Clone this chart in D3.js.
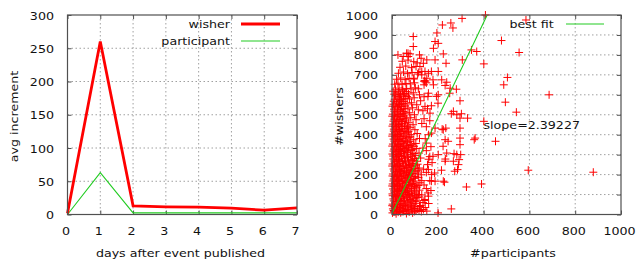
<!DOCTYPE html>
<html><head><meta charset="utf-8">
<script src="https://cdn.jsdelivr.net/npm/d3@7/dist/d3.min.js"></script>
<style>
html,body{margin:0;padding:0;background:#fff;}
svg{display:block;}
text{font-family:"DejaVu Sans",sans-serif;font-size:11px;fill:#111;}
</style></head>
<body>
<svg id="c" width="636" height="262"></svg>
<script>
// ---------- DATA ----------
const days = [0, 1, 2, 3, 4, 5, 6, 7];
const wisherIncrement = [2, 260, 13, 11.5, 11, 9.5, 6.5, 10];
const participantIncrement = [0, 63, 2.5, 2.5, 2.5, 2.5, 2.5, 2.5];
const leftXTicks = [0, 1, 2, 3, 4, 5, 6, 7];
const leftYTicks = [0, 50, 100, 150, 200, 250, 300];
const rightXTicks = [0, 200, 400, 600, 800, 1000];
const rightYTicks = [0, 100, 200, 300, 400, 500, 600, 700, 800, 900, 1000];
const fitSlope = 2.39227;
const fitIntercept = 5;
const slopeLabel = "slope=2.39227";
// [#participants, #wishers]
const events = [
[2,8],[9,14],[18,4],[27,12],[38,9],[50,16],[63,5],[75,13],[90,8],[105,18],
[4,28],[12,33],[22,26],[33,35],[45,29],[58,32],[70,25],[85,36],[98,30],[112,27],
[3,52],[14,58],[25,50],[36,57],[48,54],[60,49],[74,59],[88,53],[102,56],
[6,78],[16,84],[29,76],[40,82],[52,79],[66,86],[79,75],[95,81],[118,88],
[2,103],[11,109],[21,101],[34,107],[46,104],[57,110],[71,100],[84,106],[99,108],[130,98],
[5,128],[17,133],[27,126],[39,131],[53,135],[64,127],[78,132],[92,129],[108,134],
[3,153],[13,158],[24,151],[35,157],[47,154],[61,160],[73,150],[89,156],[104,152],[122,159],[140,148],
[8,178],[19,184],[31,176],[42,182],[56,179],[68,185],[82,175],[97,181],[115,186],
[4,203],[15,209],[26,200],[37,207],[50,204],[63,210],[76,201],[91,206],[110,208],[128,199],[150,211],
[7,228],[18,234],[30,226],[44,232],[57,229],[70,235],[86,225],[101,231],[119,233],[138,227],
[3,253],[12,258],[23,250],[34,257],[48,254],[60,259],[75,251],[93,256],[112,252],
[6,278],[17,284],[28,276],[41,282],[54,279],[67,285],[83,275],[99,281],[125,283],[160,277],
[2,303],[14,309],[25,301],[37,307],[50,304],[65,310],[80,300],[96,306],[118,308],
[9,328],[20,334],[32,326],[45,332],[58,329],[72,335],[90,325],[108,331],[135,333],
[4,353],[15,358],[27,351],[40,357],[53,354],[68,360],[86,350],[104,356],
[7,378],[18,384],[30,376],[43,382],[57,379],[74,385],[95,375],[120,381],
[3,403],[13,409],[25,401],[38,407],[52,404],[66,410],[84,400],[110,406],
[8,428],[20,434],[33,426],[47,432],[62,429],[79,435],[100,425],
[5,453],[16,458],[28,451],[42,457],[56,454],[73,460],[92,450],[130,456],
[10,478],[22,484],[35,476],[49,482],[64,479],[82,485],[105,475],
[4,503],[17,509],[30,501],[45,507],[60,504],[77,510],[98,500],
[9,528],[24,534],[38,526],[53,532],[70,529],[90,535],[115,525],
[6,553],[19,558],[33,551],[48,557],[66,554],[85,560],[108,550],
[12,578],[27,584],[42,576],[58,582],[76,579],[97,585],
[10,603],[22,609],[37,601],[55,607],[72,604],[93,610],[120,600],
[15,628],[31,634],[47,626],[64,632],[83,629],[102,635],
[12,653],[26,658],[44,651],[61,657],[80,654],[98,660],[140,650],
[20,678],[38,684],[57,676],[75,682],[95,679],
[28,708],[50,714],[68,706],[88,712],[112,704],
[35,738],[60,744],[85,736],[105,742],
[45,768],[70,774],[95,766],
[7,20],[20,17],[32,22],[44,15],[57,21],[70,18],[84,23],[98,16],[118,20],
[1,44],[10,40],[24,46],[38,41],[52,45],[66,39],[80,44],[95,42],[125,45],
[8,68],[20,65],[31,70],[43,66],[55,71],[69,64],[83,69],[108,67],[140,70],
[3,94],[14,90],[26,95],[38,91],[50,93],[62,89],[76,96],[90,92],[106,94],
[9,118],[23,115],[31,120],[44,116],[58,121],[68,114],[85,119],[100,117],[120,122],
[1,143],[11,140],[22,145],[33,141],[46,144],[58,139],[70,146],[84,142],[98,141],[114,145],
[6,168],[18,165],[29,170],[40,166],[52,169],[65,164],[78,171],[94,167],[130,170],
[2,193],[12,190],[24,195],[35,191],[47,194],[60,189],[72,196],[87,192],[102,190],
[9,218],[21,215],[33,220],[41,216],[54,219],[66,214],[80,221],[96,217],[115,219],
[1,243],[14,240],[26,245],[38,241],[51,244],[64,239],[78,246],[88,242],[105,244],
[10,268],[21,265],[32,270],[45,266],[58,269],[72,264],[90,271],[107,267],
[5,293],[19,290],[31,295],[43,291],[56,294],[70,289],[88,292],[102,295],
[7,318],[18,315],[29,320],[42,316],[55,319],[68,314],[84,321],
[1,343],[13,340],[25,345],[37,341],[50,344],[63,339],[78,346],[96,342],
[10,368],[22,365],[34,370],[47,366],[61,369],[80,367],
[1,393],[14,390],[24,395],[36,391],[49,394],[62,389],[78,392],
[8,418],[18,415],[30,420],[43,416],[57,419],[72,417],
[2,443],[14,440],[26,445],[40,441],[54,444],[68,442],
[7,468],[19,465],[31,470],[45,466],[60,469],
[1,493],[12,490],[25,495],[39,491],[54,494],
[10,518],[23,515],[36,520],[50,516],
[2,543],[14,540],[28,545],[42,541],[58,544],
[8,568],[22,565],[36,570],[52,566],
[16,593],[33,590],[50,595],[66,591],
[5,618],[28,615],[45,620],[62,616],
[306,983],[408,1000],[585,975],[220,950],[257,960],[266,935],[93,892],[196,910],[478,872],[93,842],
[188,867],[202,858],[181,833],[347,825],[370,817],[224,805],[555,812],[64,808],[71,792],[49,792],
[79,805],[127,783],[152,775],[137,758],[188,775],[236,758],[307,775],[401,755],[122,742],[130,717],
[115,712],[144,717],[159,708],[202,717],[172,717],[96,683],[152,683],[504,687],[488,650],[217,675],
[239,663],[181,650],[232,647],[254,633],[281,628],[252,608],[202,600],[159,608],[686,600],[495,563],
[297,570],[201,558],[144,542],[543,513],[268,517],[283,500],[259,505],[303,505],[297,483],[330,483],
[401,467],[235,433],[219,428],[297,433],[188,433],[224,425],[359,375],[452,367],[245,367],[297,350],
[223,342],[363,383],[297,383],[232,375],[271,305],[300,300],[293,275],[233,278],[202,300],[239,308],
[283,300],[232,267],[268,267],[290,250],[595,222],[879,212],[286,225],[274,217],[216,222],[159,225],
[173,200],[188,167],[224,167],[229,162],[391,153],[325,138],[259,28],[201,8],[152,17],[101,67],
[144,75],[115,100],[159,92],[145,665],[150,660],[140,668],[179,675],[143,672],[194,592],[157,592],
[172,545],[166,508],[172,408],[150,358],[179,292],[186,208],[172,167],[157,108],[137,25],[99,17],
[120,40],[135,60],[128,15],[145,35],[110,85],[160,55],[170,120],[150,130],[165,170],[175,260],
[155,250],[165,290],[150,320],[170,340],[145,380],[160,400],[150,440],[140,480],[165,470],[135,520],
[155,530],[125,570],[140,590],[115,630],[130,700],[110,760],[120,800],[26,800],[70,808]
];

// ---------- LAYOUT ----------
const svg = d3.select("#c");
const SX = 1.15;
const TOP = 15, BOTTOM = 214.5;
const BORDER = "#505050";
const GRID = "#a0a0a0";
const TEXT = "#111";

function label(g, x, y, str, anchor, rot) {
  g.append("text")
    .attr("transform", `translate(${x},${y}) rotate(${rot||0}) scale(${SX},1)`)
    .attr("text-anchor", anchor)
    .text(str);
}

function panel(x0, x1, xs, ys, xTicks, yTicks, yLabelDx) {
  const g = svg.append("g");
  g.append("g").selectAll("line").data(xTicks.slice(1, -1)).join("line")
    .attr("x1", d => xs(d)).attr("x2", d => xs(d)).attr("y1", TOP).attr("y2", BOTTOM)
    .attr("stroke", GRID).attr("stroke-dasharray", "1.5,2.5");
  g.append("g").selectAll("line").data(yTicks.slice(1, -1)).join("line")
    .attr("y1", d => ys(d)).attr("y2", d => ys(d)).attr("x1", x0).attr("x2", x1)
    .attr("stroke", GRID).attr("stroke-dasharray", "1.5,2.5");
  const style = sel => {
    sel.select(".domain").remove();
    sel.selectAll(".tick line").attr("stroke", BORDER);
  };
  const ga = g.append("g").attr("transform", `translate(${x0},0)`)
    .call(d3.axisLeft(ys).tickValues(yTicks).tickSize(-4).tickFormat(d3.format("d")));
  style(ga);
  ga.selectAll(".tick text").attr("x", null).attr("dy", null)
    .attr("transform", `translate(${yLabelDx},4) scale(${SX},1)`).attr("text-anchor", "end")
    .attr("fill", TEXT).attr("font-family", null).attr("font-size", null);
  const gr = g.append("g").attr("transform", `translate(${x1},0)`)
    .call(d3.axisRight(ys).tickValues(yTicks).tickSize(-4).tickFormat(""));
  style(gr);
  const gb = g.append("g").attr("transform", `translate(0,${BOTTOM})`)
    .call(d3.axisBottom(xs).tickValues(xTicks).tickSize(-4).tickFormat(d3.format("d")));
  style(gb);
  gb.selectAll(".tick text").attr("y", null).attr("dy", null)
    .attr("transform", `translate(-2,20) scale(${SX},1)`).attr("text-anchor", "middle")
    .attr("fill", TEXT).attr("font-family", null).attr("font-size", null);
  const gt = g.append("g").attr("transform", `translate(0,${TOP})`)
    .call(d3.axisTop(xs).tickValues(xTicks).tickSize(-4).tickFormat(""));
  style(gt);
  return g;
}

// ---------- LEFT PANEL ----------
const lx = d3.scaleLinear().domain([0, 7]).range([67.5, 297]);
const ly = d3.scaleLinear().domain([0, 300]).range([BOTTOM, TOP]);
const gl = panel(67.5, 297, lx, ly, leftXTicks, leftYTicks, -13.5);

const line = d3.line().x((d, i) => lx(days[i])).y(d => ly(d));
gl.append("path").datum(participantIncrement).attr("d", line)
  .attr("fill", "none").attr("stroke", "#22cc22").attr("stroke-width", 1.1);
gl.append("path").datum(wisherIncrement).attr("d", line)
  .attr("fill", "none").attr("stroke", "#ff0000").attr("stroke-width", 2.8)
  .attr("stroke-linejoin", "miter");

gl.append("rect").attr("x", 67.5).attr("y", TOP).attr("width", 297 - 67.5).attr("height", BOTTOM - TOP)
  .attr("fill", "none").attr("stroke", BORDER).attr("stroke-width", 1.2);

label(gl, 230, 28.3, "wisher", "end");
gl.append("line").attr("x1", 241).attr("x2", 280).attr("y1", 24).attr("y2", 24)
  .attr("stroke", "#ff0000").attr("stroke-width", 2.8);
label(gl, 230, 45, "participant", "end");
gl.append("line").attr("x1", 241).attr("x2", 280).attr("y1", 41).attr("y2", 41)
  .attr("stroke", "#22cc22").attr("stroke-width", 1.1);

label(gl, 180.5, 257, "days after event published", "middle");
label(gl, 18, 116.5, "avg increment", "middle", -90);

// ---------- RIGHT PANEL ----------
const rx = d3.scaleLinear().domain([0, 1000]).range([392, 621]);
const ry = d3.scaleLinear().domain([0, 1000]).range([BOTTOM, TOP]);
const gr = panel(392, 621, rx, ry, rightXTicks, rightYTicks, -14);

gr.append("g").selectAll("path").data(events).join("path")
  .attr("d", d => `M${rx(d[0]) - 4},${ry(d[1])}h8M${rx(d[0])},${ry(d[1]) - 4}v8`)
  .attr("stroke", "#ff0000").attr("stroke-width", 1).attr("fill", "none");

svg.append("defs").append("clipPath").attr("id", "clipR")
  .append("rect").attr("x", 392).attr("y", TOP).attr("width", 229).attr("height", BOTTOM - TOP);
const fitX = d3.range(0, 1001, 50);
gr.append("path").datum(fitX)
  .attr("d", d3.line().x(d => rx(d)).y(d => ry(fitSlope * d + fitIntercept)))
  .attr("clip-path", "url(#clipR)")
  .attr("fill", "none").attr("stroke", "#22cc22").attr("stroke-width", 1.1);

gr.append("rect").attr("x", 392).attr("y", TOP).attr("width", 229).attr("height", BOTTOM - TOP)
  .attr("fill", "none").attr("stroke", BORDER).attr("stroke-width", 1.2);

label(gr, 553.7, 28.3, "best fit", "end");
gr.append("line").attr("x1", 566).attr("x2", 604).attr("y1", 24).attr("y2", 24)
  .attr("stroke", "#22cc22").attr("stroke-width", 1.1);
label(gr, 483.5, 128.5, slopeLabel, "start");

label(gr, 513, 257, "#participants", "middle");
label(gr, 343, 116.5, "#wishers", "middle", -90);
</script>
</body></html>
